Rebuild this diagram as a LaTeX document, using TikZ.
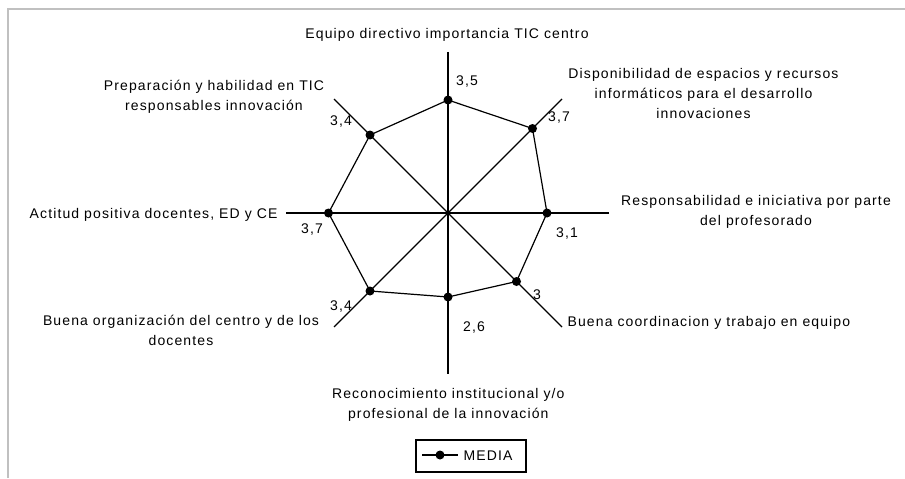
\documentclass[tikz,border=0pt]{standalone}
\usepackage{fontspec}
\setmainfont{Liberation Sans}[LetterSpace=8]
\usepackage{tikz}
\usepackage{xcolor}
\definecolor{framegray}{RGB}{192,192,192}

\begin{document}
\begin{tikzpicture}[x=0.75pt, y=-0.75pt, line width=0.9pt, every node/.style={font=\fontsize{10.5}{15}\selectfont, inner sep=0pt, align=center}]

    \useasboundingbox (0, 0) rectangle (905, 478);

    % Chart frame (only top and left edge visible)
    \draw[framegray, line width=1.1pt] (8, 478) -- (8, 9) -- (905, 9);

    % Radar chart, scale 0..5
    \begin{scope}[shift={(448, 213)}]
        \coordinate (O) at (0, 0);

        % Axis ends
        \coordinate (A1) at (0, -161);     % top
        \coordinate (A2) at (114, -114);   % upper right
        \coordinate (A3) at (161, 0);      % right
        \coordinate (A4) at (114, 114);    % lower right
        \coordinate (A5) at (0, 161);      % bottom
        \coordinate (A6) at (-114, 114);   % lower left
        \coordinate (A7) at (-162, 0);     % left
        \coordinate (A8) at (-114, -114);  % upper left

        % Values
        \coordinate (P1) at (0, -113);     % 3,5
        \coordinate (P2) at (84.5, -84.5); % 3,7
        \coordinate (P3) at (99, 0);       % 3,1
        \coordinate (P4) at (68.5, 68.5);  % 3
        \coordinate (P5) at (0, 84);       % 2,6
        \coordinate (P6) at (-78, 78);     % 3,4
        \coordinate (P7) at (-119.5, 0);   % 3,7
        \coordinate (P8) at (-78, -78);    % 3,4

        % Draw axes
        \draw (A1) -- (A5);
        \draw (A2) -- (A6);
        \draw (A3) -- (A7);
        \draw (A4) -- (A8);

        % Draw the MEDIA line
        \draw (P1) -- (P2) -- (P3) -- (P4) -- (P5) -- (P6) -- (P7) -- (P8) -- cycle;

        % Draw points
        \fill (P1) circle (4.5);
        \fill (P2) circle (4.5);
        \fill (P3) circle (4.5);
        \fill (P4) circle (4.5);
        \fill (P5) circle (4.5);
        \fill (P6) circle (4.5);
        \fill (P7) circle (4.5);
        \fill (P8) circle (4.5);
    \end{scope}

    % Value labels
    \node (v1) [anchor=base] at (467, 85) {3,5};
    \node (v2) [anchor=base] at (559, 121) {3,7};
    \node (v3) [anchor=base] at (567, 237) {3,1};
    \node (v4) [anchor=base] at (537, 299) {3};
    \node (v5) [anchor=base] at (474, 331) {2,6};
    \node (v6) [anchor=base] at (341, 310) {3,4};
    \node (v7) [anchor=base] at (312, 233) {3,7};
    \node (v8) [anchor=base] at (341, 125) {3,4};

    % Axis labels (base = last line)
    \node (equipo) [anchor=base] at (447, 38.7) {Equipo directivo importancia TIC centro};
    \node (disponibilidad) [anchor=base] at (703.5, 118) {Disponibilidad de espacios y recursos\\ informáticos para el desarrollo\\ innovaciones};
    \node (responsabilidad) [anchor=base] at (756, 225.7) {Responsabilidad e iniciativa por parte\\ del profesorado};
    \node (coordinacion) [anchor=base west] at (567, 326.7) {Buena coordinacion y trabajo en equipo};
    \node (reconocimiento) [anchor=base] at (448.3, 418.2) {Reconocimiento institucional y/o\\ profesional de la innovación};
    \node (organizacion) [anchor=base] at (181, 345) {Buena organización del centro y de los\\ docentes};
    \node (actitud) [anchor=base east] at (278, 218) {Actitud positiva docentes, ED y CE};
    \node (preparacion) [anchor=base] at (214, 110.5) {Preparación y habilidad en TIC\\ responsables innovación};

    % Legend
    \draw[line width=0.8pt] (416, 440) rectangle (526, 472);
    \coordinate (M1) at (422, 455);
    \coordinate (M2) at (458, 455);
    \draw (M1) -- (M2);
    \fill (440, 455) circle (4.5);
    \node (media) [anchor=base west] at (463, 460.7) {MEDIA};

\end{tikzpicture}
\end{document}
